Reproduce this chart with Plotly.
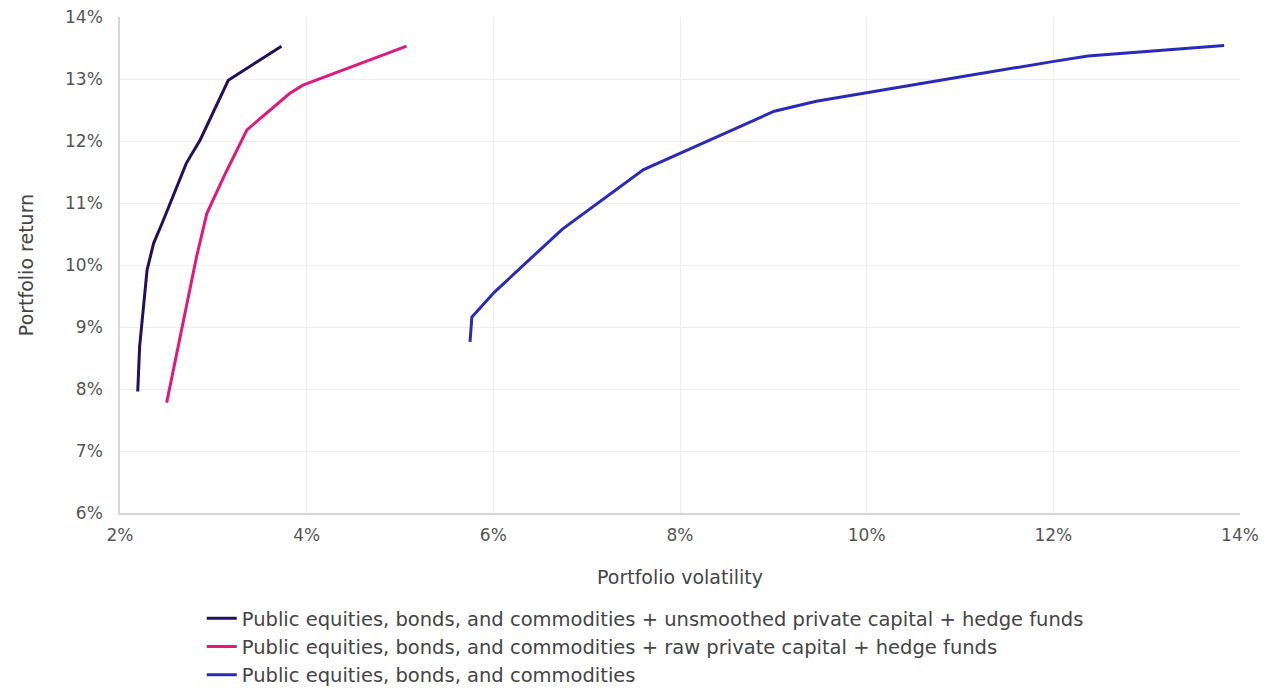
import plotly.graph_objects as go

# Portfolio volatility (%) and return (%) for each efficient frontier
unsmoothed_vol = [2.19, 2.21, 2.29, 2.36, 2.45, 2.71, 2.86, 3.16, 3.73]
unsmoothed_ret = [7.96, 8.68, 9.92, 10.35, 10.67, 11.64, 12.02, 12.98, 13.53]

raw_vol = [2.50, 2.66, 2.82, 2.93, 3.13, 3.36, 3.61, 3.82, 3.96, 4.29, 5.07]
raw_ret = [7.78, 8.95, 10.13, 10.83, 11.48, 12.18, 12.50, 12.77, 12.90, 13.09, 13.53]

public_vol = [5.75, 5.77, 6.01, 6.74, 7.61, 9.01, 9.46, 10.00, 11.03, 11.99, 12.37, 13.83]
public_ret = [8.76, 9.16, 9.56, 10.58, 11.54, 12.48, 12.64, 12.78, 13.04, 13.28, 13.37, 13.54]

series_names = [
    "Public equities, bonds, and commodities + unsmoothed private capital + hedge funds",
    "Public equities, bonds, and commodities + raw private capital + hedge funds",
    "Public equities, bonds, and commodities",
]
colors = ["#22105a", "#e01a7c", "#2a2ab8"]

x_ticks = [2, 4, 6, 8, 10, 12, 14]
y_ticks = [6, 7, 8, 9, 10, 11, 12, 13, 14]

fig = go.Figure()
for xs, ys, name, c in zip(
    [unsmoothed_vol, raw_vol, public_vol],
    [unsmoothed_ret, raw_ret, public_ret],
    series_names, colors,
):
    fig.add_trace(go.Scatter(x=xs, y=ys, mode="lines", name=name,
                             line=dict(color=c, width=3)))

FONT = "DejaVu Sans"
axis_font = dict(family=FONT, size=17, color="#555555")
title_font = dict(family=FONT, size=19, color="#444444")
fig.update_layout(
    width=1281, height=688,
    margin=dict(l=120, r=41, t=17, b=175),
    paper_bgcolor="white", plot_bgcolor="white",
    font=dict(family=FONT, color="#444444"),
    showlegend=True,
    legend=dict(
        orientation="v", xref="paper", yref="container",
        x=0.073, xanchor="left", y=0.1294, yanchor="top",
        font=dict(family=FONT, size=19.5, color="#444444"),
        itemwidth=30, tracegroupgap=0, bgcolor="rgba(0,0,0,0)",
    ),
    xaxis=dict(
        range=[2, 14], tickvals=x_ticks, ticktext=[f"{v}%" for v in x_ticks],
        showgrid=True, gridcolor="#eeeeee", gridwidth=1,
        showline=True, linecolor="#d6d6d6", linewidth=1.5,
        zeroline=False, tickfont=axis_font, ticks="", ticklabelstandoff=6,
        automargin=False,
        title=dict(text="Portfolio volatility", font=title_font, standoff=27),
    ),
    yaxis=dict(
        range=[6, 14], tickvals=y_ticks, ticktext=[f"{v}%" for v in y_ticks],
        showgrid=True, gridcolor="#eeeeee", gridwidth=1,
        showline=True, linecolor="#d6d6d6", linewidth=1.5,
        zeroline=False, tickfont=axis_font, ticks="", ticklabelstandoff=12,
        automargin=False,
        title=dict(text="Portfolio return", font=title_font, standoff=26),
    ),
)

fig.write_html("out.html", config={"displayModeBar": False},
               post_script="document.body.style.margin='0';")
